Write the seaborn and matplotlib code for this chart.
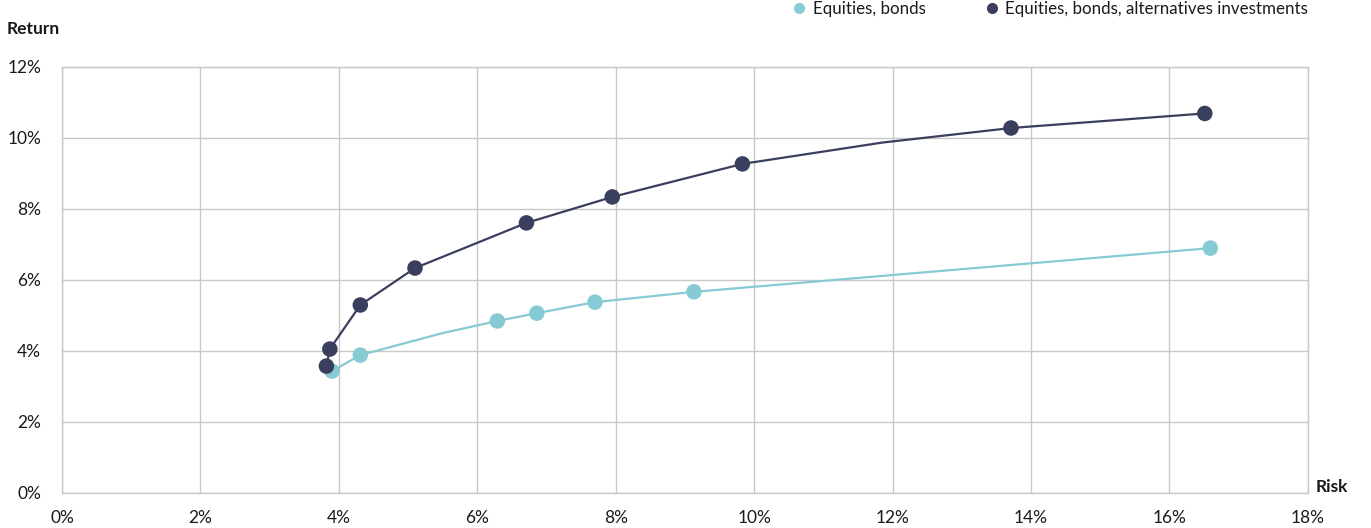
"""Risk / return frontier: equities & bonds vs. adding alternatives"""
import matplotlib
matplotlib.use("Agg")
import matplotlib.pyplot as plt
from matplotlib.lines import Line2D
from matplotlib.ticker import FuncFormatter, MultipleLocator
import pandas as pd
import seaborn as sns

# frontier points (risk %, return %); marked=False are bends on the curve with no dot
eb_risk = [3.90, 4.31, 5.50, 6.29, 6.86, 7.70, 9.13, 16.59]
eb_return = [3.43, 3.88, 4.50, 4.84, 5.06, 5.37, 5.66, 6.89]
eb_marked = [True, True, False, True, True, True, True, True]

eba_risk = [3.82, 3.87, 4.31, 5.10, 6.71, 7.95, 9.83, 11.85, 13.71, 16.51]
eba_return = [3.57, 4.05, 5.29, 6.33, 7.60, 8.33, 9.26, 9.86, 10.27, 10.68]
eba_marked = [True, True, True, True, True, True, True, False, True, True]

series_names = ["Equities, bonds", "Equities, bonds, alternatives investments"]
series_colors = ["#86CAD3", "#3B3F5E"]

eb = pd.DataFrame({"risk": eb_risk, "ret": eb_return, "marked": eb_marked})
eba = pd.DataFrame({"risk": eba_risk, "ret": eba_return, "marked": eba_marked})

sns.set_theme(style="whitegrid")
plt.rcParams["font.family"] = ["Lato", "DejaVu Sans"]
plt.rcParams["text.color"] = "#1a1a1a"

fig = plt.figure(figsize=(13.71, 5.28), dpi=100)
ax = fig.add_axes([0.0452, 0.0663, 0.9088, 0.8077])

for df, color in zip([eb, eba], series_colors):
    sns.lineplot(data=df, x="risk", y="ret", sort=False, color=color, lw=1.6, ax=ax, zorder=3)
    sns.scatterplot(data=df[df["marked"]], x="risk", y="ret", color=color, s=125,
                    edgecolor="none", ax=ax, zorder=4)

ax.set_xlim(0, 18)
ax.set_ylim(0, 12)
ax.xaxis.set_major_locator(MultipleLocator(2))
ax.yaxis.set_major_locator(MultipleLocator(2))
pct = FuncFormatter(lambda v, _: f"{v:.0f}%")
ax.xaxis.set_major_formatter(pct)
ax.yaxis.set_major_formatter(pct)
ax.grid(True, color="#c8c8c8", lw=1.0)
for s in ax.spines.values():
    s.set_visible(True)
    s.set_color("#c8c8c8")
    s.set_linewidth(1.0)
ax.tick_params(axis="x", length=0, pad=12, labelsize=12.5, labelcolor="#1a1a1a")
ax.tick_params(axis="y", length=0, pad=15, labelsize=12.5, labelcolor="#1a1a1a")
ax.set_xlabel("")
ax.set_ylabel("")

fig.text(7 / 1371, 1 - 29 / 528, "Return", fontsize=12.5, fontweight="bold", va="center", ha="left")
fig.text(1348 / 1371, 1 - 487 / 528, "Risk", fontsize=12.5, fontweight="bold", va="center", ha="right")

handles = [Line2D([], [], ls="none", marker="o", ms=8, color=c, markeredgewidth=0) for c in series_colors]
ax.legend(handles, series_names, loc="center right", bbox_to_anchor=(1.0, 1.135), ncol=2,
          frameon=False, fontsize=12.2, handletextpad=0.3, columnspacing=3.4,
          borderpad=0, borderaxespad=0, handlelength=1.0)

fig.savefig("out.png", dpi=100)
